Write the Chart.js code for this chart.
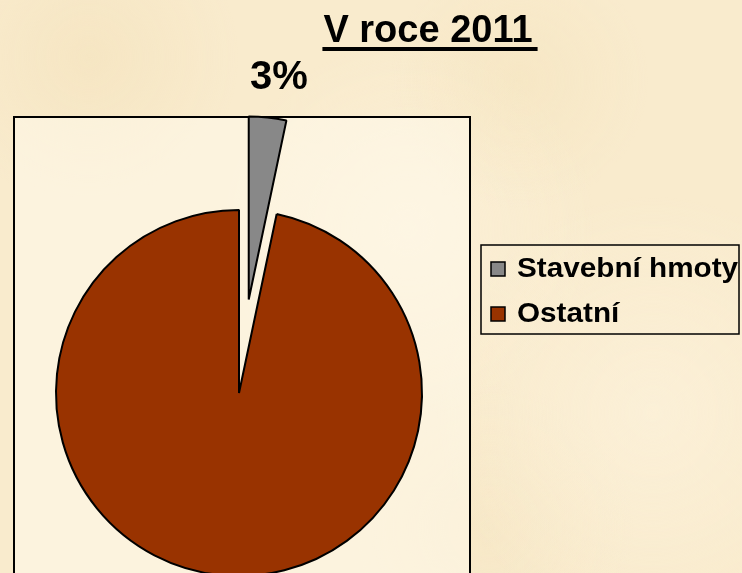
<!DOCTYPE html>
<html>
<head>
  <meta charset="utf-8">
  <title>V roce 2011</title>
  <script src="https://cdn.jsdelivr.net/npm/chart.js@4.4.0/dist/chart.umd.min.js"></script>
  <style>
    html, body {
      margin: 0;
      padding: 0;
      width: 742px;
      height: 573px;
      overflow: hidden;
    }
    body {
      background-color: #f9ebcd;
      background-image:
        radial-gradient(circle at 12% 10%, rgba(240, 220, 176, 0.35), rgba(240, 220, 176, 0) 18%),
        radial-gradient(circle at 70% 14%, rgba(242, 224, 182, 0.35), rgba(242, 224, 182, 0) 18%),
        radial-gradient(circle at 88% 72%, rgba(253, 243, 222, 0.6), rgba(253, 243, 222, 0) 28%),
        radial-gradient(circle at 66% 92%, rgba(243, 226, 188, 0.35), rgba(243, 226, 188, 0) 20%),
        radial-gradient(circle at 55% 40%, rgba(253, 244, 224, 0.5), rgba(253, 244, 224, 0) 35%);
    }
    #chart {
      position: absolute;
      left: 0;
      top: 0;
    }
  </style>
</head>
<body>
  <canvas id="chart" width="742" height="800" style="width: 742px; height: 800px;"></canvas>
  <script>
    // data
    const title = 'V roce 2011';
    const labels = ['Stavební hmoty', 'Ostatní'];
    const values = [3.3, 96.7];
    const colors = ['#888888', '#993300'];

    const explode = [94, 0]; // px the slice is pulled out
    const font = 'Liberation Sans, Arial, Helvetica, sans-serif';

    // draws the slices with a real shift (Chart.js offset grows the radius instead)
    const explodedPie = {
      id: 'explodedPie',
      beforeDatasetDraw(chart, args) {
        const ctx = chart.ctx;
        args.meta.data.forEach((arc, i) => {
          const mid = (arc.startAngle + arc.endAngle) / 2;
          ctx.save();
          ctx.translate(Math.cos(mid) * explode[i], Math.sin(mid) * explode[i]);
          arc.draw(ctx, chart.chartArea);
          ctx.restore();
        });
        return false;
      }
    };

    const frame = {
      id: 'frame',
      beforeDraw(chart) {
        const ctx = chart.ctx;
        ctx.save();
        ctx.fillStyle = 'rgba(255, 251, 240, 0.5)';
        ctx.fillRect(14, 117, 456, 700);
        ctx.strokeStyle = '#000';
        ctx.lineWidth = 2;
        ctx.strokeRect(14, 117, 456, 700);
        ctx.restore();
      },
      afterDraw(chart) {
        const ctx = chart.ctx;
        ctx.save();
        ctx.fillStyle = '#000';
        ctx.textBaseline = 'alphabetic';

        // title
        ctx.font = 'bold 38px ' + font;
        ctx.textAlign = 'left';
        const tw = ctx.measureText(title).width;
        const tx = 428 - tw / 2;
        ctx.fillText(title, tx, 42);
        ctx.fillRect(tx - 1, 47, tw + 6, 4);

        // percent label of the exploded slice
        const arc = chart.getDatasetMeta(0).data[0];
        const mid = (arc.startAngle + arc.endAngle) / 2;
        const total = values.reduce((a, b) => a + b, 0);
        const d = explode[0] + arc.outerRadius + 40;
        ctx.font = 'bold 40px ' + font;
        ctx.textAlign = 'center';
        ctx.textBaseline = 'middle';
        ctx.fillText(Math.round(values[0] / total * 100) + '%',
          arc.x + Math.cos(mid) * d + 7, arc.y + Math.sin(mid) * d);

        // legend
        ctx.lineWidth = 1.5;
        ctx.strokeStyle = '#000';
        ctx.strokeRect(481, 245, 258, 89);
        ctx.font = 'bold 27px ' + font;
        ctx.textAlign = 'left';
        ctx.textBaseline = 'alphabetic';
        labels.forEach((l, i) => {
          const y = 262 + i * 45;
          ctx.fillStyle = colors[i];
          ctx.fillRect(491, y, 14, 14);
          ctx.lineWidth = 1.5;
          ctx.strokeRect(491, y, 14, 14);
          ctx.fillStyle = '#000';
          // the original text is a little stretched sideways
          ctx.save();
          ctx.translate(517, y + 15);
          ctx.scale(1.1, 1);
          ctx.fillText(l, 0, 0);
          ctx.restore();
        });
        ctx.restore();
      }
    };

    new Chart(document.getElementById('chart'), {
      type: 'pie',
      data: {
        labels: labels,
        datasets: [{
          data: values,
          backgroundColor: colors,
          borderColor: '#000',
          borderWidth: 2
        }]
      },
      options: {
        responsive: false,
        animation: false,
        radius: 183,
        layout: { padding: { left: 14, right: 278, top: 117, bottom: 131 } },
        plugins: {
          legend: { display: false },
          title: { display: false },
          tooltip: { enabled: false }
        }
      },
      plugins: [frame, explodedPie]
    });
  </script>
</body>
</html>
